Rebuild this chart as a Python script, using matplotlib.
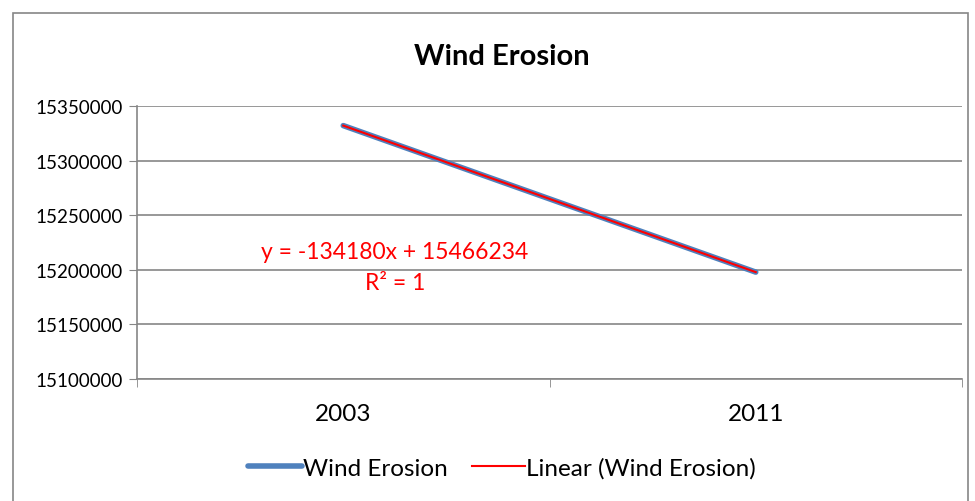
import numpy as np
import matplotlib.pyplot as plt
from matplotlib.patches import Rectangle

years = ['2003', '2011']
erosion = [15332054, 15197874]
slope, intercept = -134180, 15466234
yticks = [15100000, 15150000, 15200000, 15250000, 15300000, 15350000]

plt.rcParams['font.family'] = ['Lato', 'DejaVu Sans']

fig = plt.figure(figsize=(9.75, 5.02), dpi=100)
fig.patches.append(Rectangle((0.0133, -0.05), 0.98, 1.022, transform=fig.transFigure,
                             fill=False, edgecolor='#868686', linewidth=1.2))

ax = fig.add_axes([137 / 975, 1 - 380 / 502, 825 / 975, 273 / 502])
x = np.arange(len(years))
trend = [slope * (i + 1) + intercept for i in x]

ax.plot(x, erosion, color='#4F81BD', linewidth=4, solid_capstyle='round', label='Wind Erosion')
ax.plot(x, trend, color='#FF0000', linewidth=1.5, label='Linear (Wind Erosion)')

ax.set_xlim(-0.5, 1.5)
ax.set_ylim(15100000, 15350000)
ax.set_yticks(yticks)
ax.set_yticklabels([str(v) for v in yticks], fontsize=13.5)
ax.set_xticks(x)
ax.set_xticklabels(years, fontsize=17.5)
ax.set_xticks([-0.5, 0.5, 1.5], minor=True)
ax.tick_params(axis='x', which='major', length=0, pad=17)
ax.tick_params(axis='x', which='minor', length=6, color='#868686')
ax.tick_params(axis='y', length=6, color='#868686', pad=4)
ax.grid(axis='y', color='#868686', linewidth=1.2)
ax.set_axisbelow(True)
for s in ['top', 'right']:
    ax.spines[s].set_visible(False)
for s in ['left', 'bottom']:
    ax.spines[s].set_color('#868686')
    ax.spines[s].set_linewidth(1.2)

ax.text(0.1255, 15202500, 'y = -134180x + 15466234\nR² = 1', color='#FF0000',
        fontsize=16.5, ha='center', va='center', linespacing=1.55)

fig.text(0.515, 1 - 57 / 502, 'Wind Erosion', fontsize=21, fontweight='bold',
         ha='center', va='center')

fig.legend(loc='center', bbox_to_anchor=(0.515, 1 - 469 / 502), ncol=2, frameon=False,
           fontsize=17.5, handlelength=2.2, columnspacing=1.0, handletextpad=0.05)

fig.savefig('out.png', dpi=100)
